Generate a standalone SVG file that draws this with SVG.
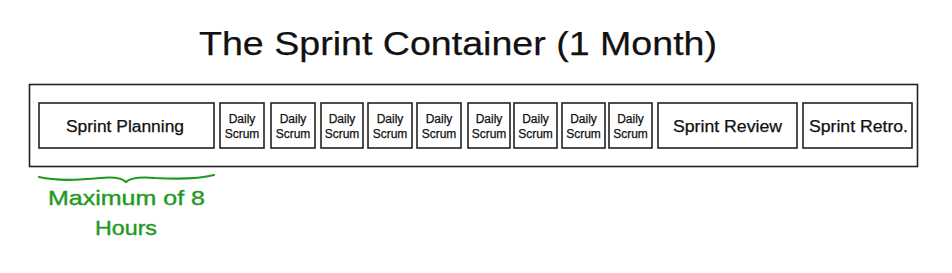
<svg xmlns="http://www.w3.org/2000/svg" width="952" height="273" viewBox="0 0 952 273">
<style>
.box{fill:#fff;stroke:#222;stroke-width:1.6}
.t{font-family:"Liberation Sans",Arial,sans-serif;fill:#111;text-anchor:middle;stroke:#111;stroke-width:0.25}
.s{font-size:12px}
.m{font-size:16px}
.g{font-family:"Liberation Sans",Arial,sans-serif;fill:#1f9a1f;stroke:#1f9a1f;stroke-width:0.4;font-size:21px;text-anchor:middle}
</style>
<rect width="952" height="273" fill="#fff"/>
<text class="t" x="458" y="55" font-size="34" stroke-width="0.8" textLength="518" lengthAdjust="spacingAndGlyphs">The Sprint Container (1 Month)</text>
<g id="container"><rect class="box" x="29.5" y="84.5" width="888" height="82"/></g>
<g id="planning"><rect class="box" x="39" y="103" width="175" height="45"/><text class="t m" x="125" y="132" textLength="118" lengthAdjust="spacingAndGlyphs">Sprint Planning</text></g>
<g id="d1"><rect class="box" x="220" y="103" width="44" height="45"/><text class="t s" x="242" y="123">Daily</text><text class="t s" x="242" y="138">Scrum</text></g>
<g id="d2"><rect class="box" x="271" y="103" width="44" height="45"/><text class="t s" x="293" y="123">Daily</text><text class="t s" x="293" y="138">Scrum</text></g>
<g id="d3"><rect class="box" x="321" y="103" width="42" height="45"/><text class="t s" x="342" y="123">Daily</text><text class="t s" x="342" y="138">Scrum</text></g>
<g id="d4"><rect class="box" x="368" y="103" width="44" height="45"/><text class="t s" x="390" y="123">Daily</text><text class="t s" x="390" y="138">Scrum</text></g>
<g id="d5"><rect class="box" x="417" y="103" width="44" height="45"/><text class="t s" x="439" y="123">Daily</text><text class="t s" x="439" y="138">Scrum</text></g>
<g id="d6"><rect class="box" x="468" y="103" width="42" height="45"/><text class="t s" x="489" y="123">Daily</text><text class="t s" x="489" y="138">Scrum</text></g>
<g id="d7"><rect class="box" x="514" y="103" width="43" height="45"/><text class="t s" x="535.5" y="123">Daily</text><text class="t s" x="535.5" y="138">Scrum</text></g>
<g id="d8"><rect class="box" x="562" y="103" width="43" height="45"/><text class="t s" x="583.5" y="123">Daily</text><text class="t s" x="583.5" y="138">Scrum</text></g>
<g id="d9"><rect class="box" x="609" y="103" width="43" height="45"/><text class="t s" x="630.5" y="123">Daily</text><text class="t s" x="630.5" y="138">Scrum</text></g>
<g id="review"><rect class="box" x="658" y="103" width="139" height="45"/><text class="t m" x="727.5" y="132" textLength="109" lengthAdjust="spacingAndGlyphs">Sprint Review</text></g>
<g id="retro"><rect class="box" x="803" y="103" width="109" height="45"/><text class="t m" x="858.5" y="132" textLength="99" lengthAdjust="spacingAndGlyphs">Sprint Retro.</text></g>
<g id="connectors"></g>
<g id="note">
<path d="M39 177 Q60 182 100 178 Q120 176 126 182 Q132 176 155 178 Q195 180 214 175" fill="none" stroke="#1f9a1f" stroke-width="2.2" stroke-linecap="round"/>
<text class="g" x="126.5" y="205" textLength="157" lengthAdjust="spacingAndGlyphs">Maximum of 8</text>
<text class="g" x="126" y="235" textLength="62" lengthAdjust="spacingAndGlyphs">Hours</text>
</g>
</svg>
